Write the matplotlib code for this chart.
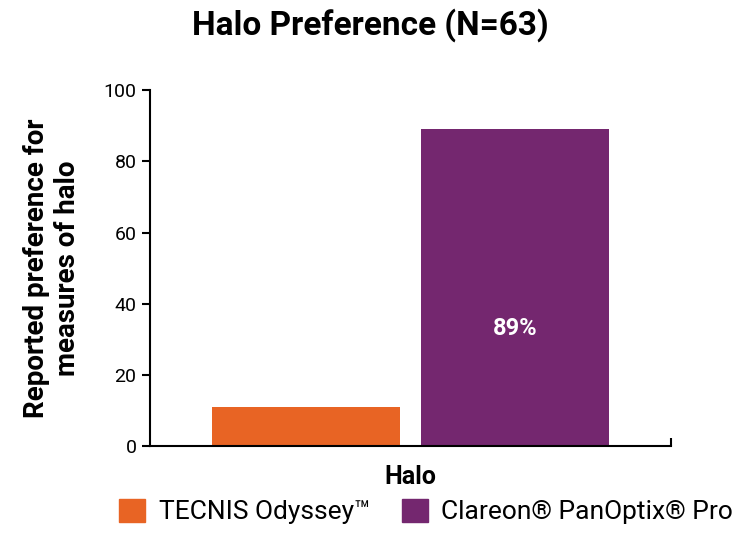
import matplotlib
matplotlib.use("Agg")
import matplotlib.pyplot as plt
from matplotlib.patches import Patch

plt.rcParams["font.family"] = ["Roboto", "DejaVu Sans"]

series = ["TECNIS Odyssey™", "Clareon® PanOptix® Pro"]
values = [11, 89]
colors = ["#e86424", "#74276f"]
bar_x = [0.30, 0.70]

fig = plt.figure(figsize=(7.41, 5.40), dpi=100)
ax = fig.add_axes([0.202, 0.174, 0.704, 0.659])

ax.bar(bar_x, values, width=0.36, color=colors)
ax.text(bar_x[1], 33, f"{values[1]}%", ha="center", va="center",
        color="white", fontsize=17, fontweight="bold")

ax.set_xlim(0, 1)
ax.set_ylim(0, 100)
ax.set_yticks(range(0, 101, 20))
ax.tick_params(axis="y", labelsize=14, length=6, width=1.5, direction="out")
ax.set_xticks([1])
ax.set_xticklabels([""])
ax.tick_params(axis="x", length=6, width=1.5, direction="in")
for s in ("top", "right"):
    ax.spines[s].set_visible(False)
for s in ("left", "bottom"):
    ax.spines[s].set_linewidth(1.5)

ax.set_xlabel("Halo", fontsize=18, fontweight="bold", labelpad=10)
ax.set_ylabel("Reported preference for\nmeasures of halo", fontsize=20,
              fontweight="bold", labelpad=16)
fig.suptitle("Halo Preference (N=63)", fontsize=24, fontweight="bold", y=0.985)

handles = [Patch(color=c, label=l) for c, l in zip(colors, series)]
fig.legend(handles=handles, loc="lower center", ncol=2, frameon=False,
           fontsize=19, bbox_to_anchor=(0.575, -0.015), handlelength=1.0,
           handleheight=1.0, columnspacing=1.2, handletextpad=0.5)

fig.savefig("out.png", dpi=100)
